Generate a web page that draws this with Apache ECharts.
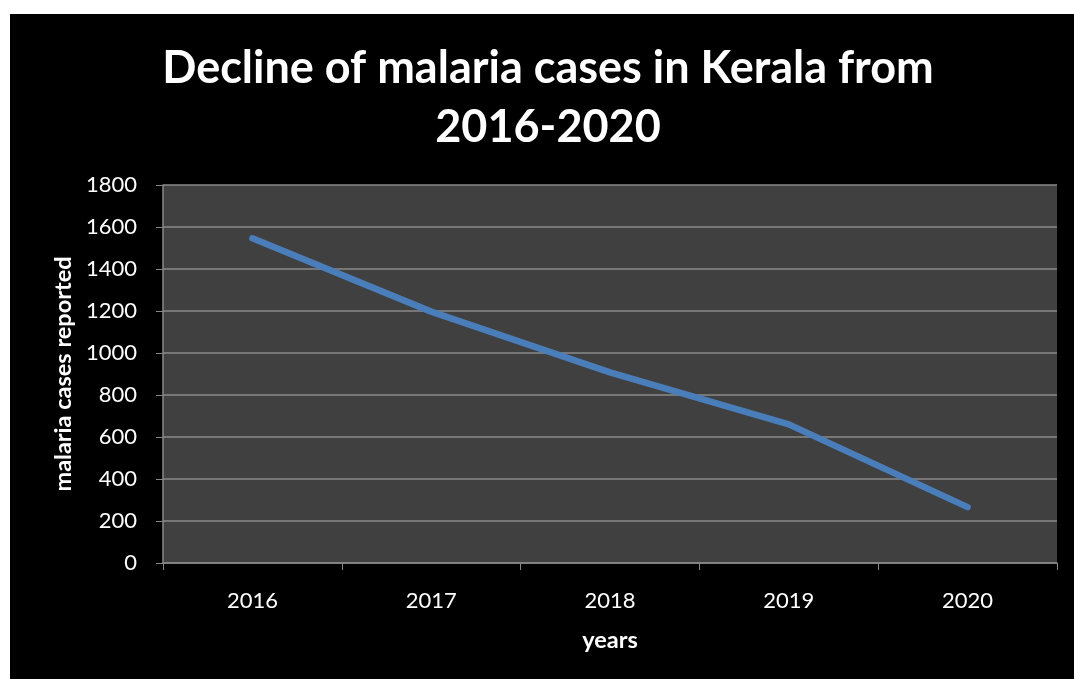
<!DOCTYPE html>
<html>
<head>
<meta charset="utf-8">
<script src="https://cdn.jsdelivr.net/npm/echarts@6/dist/echarts.min.js"></script>
<style>
html,body{margin:0;padding:0;background:#fff;width:1074px;height:679px;overflow:hidden;}
#c{position:absolute;left:10px;top:14px;width:1064px;height:665px;}
</style>
</head>
<body>
<div id="c"></div>
<script>
const titleLines = ['Decline of malaria cases in Kerala from', '2016-2020'];
const years = ['2016', '2017', '2018', '2019', '2020'];
const cases = [1546, 1197, 908, 660, 266];
const yTicks = {min: 0, max: 1800, interval: 200};
const xName = 'years';
const yName = 'malaria cases reported';

const font = 'Lato, "Open Sans", sans-serif';
const chart = echarts.init(document.getElementById('c'), null, {renderer: 'canvas'});
chart.setOption({
  backgroundColor: '#000',
  animation: false,
  title: {
    text: titleLines.join('\n'),
    left: 533,
    top: 20,
    textAlign: 'center',
    textStyle: {color: '#fff', fontSize: 45, fontWeight: 'bold', fontFamily: font, lineHeight: 59}
  },
  grid: {left: 153, top: 171, right: 17, bottom: 116, backgroundColor: '#404040', show: true, borderWidth: 0},
  xAxis: {
    type: 'category',
    data: years,
    boundaryGap: true,
    name: xName,
    nameLocation: 'middle',
    nameGap: 65,
    nameTextStyle: {color: '#fff', fontSize: 23.5, fontWeight: 'bold', fontFamily: font},
    axisLine: {lineStyle: {color: '#888', width: 1.5}},
    axisTick: {show: true, length: 7, lineStyle: {color: '#888'}},
    axisLabel: {color: '#fff', fontSize: 22, fontFamily: font, margin: 27},
    splitLine: {show: false}
  },
  yAxis: {
    type: 'value',
    min: yTicks.min, max: yTicks.max, interval: yTicks.interval,
    name: yName,
    nameLocation: 'middle',
    nameGap: 86,
    nameRotate: 90,
    nameTextStyle: {color: '#fff', fontSize: 23.5, fontWeight: 'bold', fontFamily: font},
    axisLine: {show: true, lineStyle: {color: '#888', width: 1.5}},
    axisTick: {show: true, length: 7, lineStyle: {color: '#888'}},
    axisLabel: {color: '#fff', fontSize: 22, fontFamily: font, margin: 26, formatter: v => String(v)},
    splitLine: {show: true, lineStyle: {color: '#8a8a8a', width: 1.5}}
  },
  series: [{
    type: 'line',
    data: cases,
    symbol: 'none',
    lineStyle: {color: '#4a7ebb', width: 6.5, cap: 'round', join: 'round'},
    itemStyle: {color: '#4a7ebb'}
  }]
});
</script>
</body>
</html>
